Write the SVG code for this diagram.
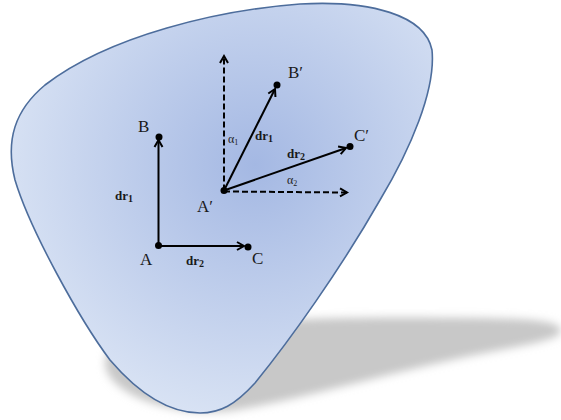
<svg xmlns="http://www.w3.org/2000/svg" width="561" height="420" viewBox="0 0 561 420">
<defs>
<radialGradient id="fillg" gradientUnits="userSpaceOnUse" cx="255" cy="165" r="260">
<stop offset="0" stop-color="#a4b8e3"/>
<stop offset="1" stop-color="#d9e3f4"/>
</radialGradient>
<filter id="blur" x="-20%" y="-50%" width="140%" height="200%"><feGaussianBlur stdDeviation="4"/></filter>
<marker id="chev" markerUnits="userSpaceOnUse" markerWidth="12" markerHeight="12" refX="9" refY="5" orient="auto" viewBox="0 0 12 10">
<path d="M2,1 L9,5 L2,9" fill="none" stroke="#000" stroke-width="2"/>
</marker>
<style>
.sol{stroke:#000;stroke-width:2;fill:none}
.dash{stroke:#000;stroke-width:2;fill:none;stroke-dasharray:6 3}
.lbl{font-family:"Liberation Serif",serif;font-size:17px;fill:#1a1a1a}
.dr{font-family:"Liberation Serif",serif;font-size:13px;font-weight:bold;fill:#1a1a1a}
.al{font-family:"Liberation Serif",serif;font-size:12px;fill:#222}
</style>
</defs>
<g id="shadow">
<path d="M108 352 C150 318 330 316 480 318 C540 319 561 322 561 331 C561 340 520 346 470 356 C380 375 300 400 230 411 C160 418 90 385 108 352 Z" fill="#c8c8c8" filter="url(#blur)"/>
</g>
<g id="body">
<path d="M200 413 C170 413 140 395 110 360 C80 320 30 230 15 180 C5 140 15 110 45 85 C110 35 220 10 300 4 C370 0 425 15 432 50 C436 90 410 150 380 200 C340 270 290 340 255 383 C235 405 220 413 200 413 Z" fill="url(#fillg)" stroke="#4d6d9c" stroke-width="1.6"/>
</g>
<g id="connectors">
<line class="sol" x1="158.5" y1="245" x2="158.5" y2="140" marker-end="url(#chev)"/>
<line class="sol" x1="158.5" y1="246" x2="244" y2="246" marker-end="url(#chev)"/>
<line class="sol" x1="224" y1="190.5" x2="275" y2="89" marker-end="url(#chev)"/>
<line class="sol" x1="224" y1="190.5" x2="346" y2="148" marker-end="url(#chev)"/>
<line class="dash" x1="224" y1="190.5" x2="224" y2="56" marker-end="url(#chev)"/>
<line class="dash" x1="224" y1="191.5" x2="347" y2="192.5" marker-end="url(#chev)"/>
</g>
<g id="nodeA"><circle cx="158.5" cy="245.5" r="3.5"/><text class="lbl" x="140" y="265">A</text></g>
<g id="nodeB"><circle cx="159" cy="137" r="3.5"/><text class="lbl" x="138" y="132">B</text></g>
<g id="nodeC"><circle cx="248" cy="247" r="3.5"/><text class="lbl" x="252" y="264">C</text></g>
<g id="nodeA2"><circle cx="224" cy="190.5" r="3.5"/><text class="lbl" x="197" y="212">A′</text></g>
<g id="nodeB2"><circle cx="277" cy="85" r="3.5"/><text class="lbl" x="288" y="78">B′</text></g>
<g id="nodeC2"><circle cx="350" cy="146.5" r="3.5"/><text class="lbl" x="354" y="141">C′</text></g>
<g id="labels">
<text class="dr" x="115" y="200">dr<tspan font-size="10" dy="2">1</tspan></text>
<text class="dr" x="186" y="265">dr<tspan font-size="10" dy="2">2</tspan></text>
<text class="dr" x="255" y="140">dr<tspan font-size="10" dy="2">1</tspan></text>
<text class="dr" x="287" y="158">dr<tspan font-size="10" dy="2">2</tspan></text>
<text class="al" x="228" y="143">α<tspan font-size="8" dy="2">1</tspan></text>
<text class="al" x="287" y="184">α<tspan font-size="8" dy="2">2</tspan></text>
</g>
</svg>
